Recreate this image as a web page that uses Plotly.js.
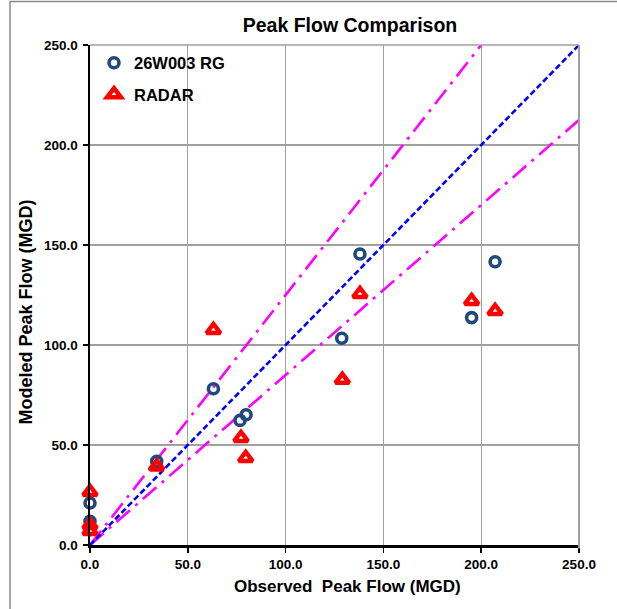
<!DOCTYPE html>
<html>
<head>
<meta charset="utf-8">
<script src="https://cdn.plot.ly/plotly-3.0.1.min.js"></script>
<style>
html,body{margin:0;padding:0;background:#fff;}
#chart{width:617px;height:609px;}
</style>
</head>
<body>
<div id="chart"></div>
<script>
// Observed vs modeled peak flows (MGD)
var rgObserved  = [0, 0, 0, 34.1, 63.1, 79.8, 76.7, 128.7, 138.0, 207.1, 195.1];
var rgModeled   = [21.0, 11.9, 7.7, 41.8, 78.1, 65.1, 62.3, 103.4, 145.5, 141.6, 113.7];

var radarObserved = [0, 0, 0, 34.1, 77.2, 79.6, 63.1, 138.0, 129.0, 195.1, 207.1];
var radarModeled  = [26.5, 10.0, 7.0, 39.3, 53.5, 43.5, 107.5, 125.5, 82.6, 122.0, 117.0];

// reference lines
var equalX = [0, 250];
var equalY = [0, 250];
var upperX = [0, 200];
var upperY = [0, 250];
var lowerX = [0, 250];
var lowerY = [0, 212.5];

var tickVals = [0, 50, 100, 150, 200, 250];
var tickText = ['0.0', '50.0', '100.0', '150.0', '200.0', '250.0'];

var FONT = 'Liberation Sans, Arial, sans-serif';

// plot-area pixel geometry helpers (for text placement only)
var L = 90, R = 579, T = 44.5, B = 545.5;
function px2paperX(p) { return (p - L) / (R - L); }
function px2paperY(p) { return (B - p) / (B - T); }

var traces = [
  {x: upperX, y: upperY, mode: 'lines', showlegend: false, hoverinfo: 'skip',
   line: {color: '#FF00FF', width: 2.6, dash: '18px,7px,3px,7px'}},
  {x: lowerX, y: lowerY, mode: 'lines', showlegend: false, hoverinfo: 'skip',
   line: {color: '#FF00FF', width: 2.6, dash: '18px,7px,3px,7px'}},
  {x: equalX, y: equalY, mode: 'lines', showlegend: false, hoverinfo: 'skip',
   line: {color: '#0000FF', width: 2.6, dash: '6px,3px'}},
  {x: rgObserved, y: rgModeled, mode: 'markers', name: '26W003 RG', legendgroup: 'a', cliponaxis: false,
   marker: {symbol: 'circle-open', size: 10, color: '#1F497D', line: {width: 3.6, color: '#1F497D'}}},
  {x: radarObserved, y: radarModeled, mode: 'markers', name: 'RADAR', legendgroup: 'b', cliponaxis: false,
   marker: {symbol: 'triangle-up-open', size: 12, color: '#FF0000', line: {width: 4.5, color: '#FF0000'}}}
];

var layout = {
  width: 617, height: 609,
  paper_bgcolor: '#ffffff', plot_bgcolor: '#ffffff',
  margin: {l: L, r: 617 - R, t: T, b: 609 - B},
  font: {family: FONT, color: '#000', size: 13},
  title: {text: '<b>Peak Flow Comparison</b>', xref: 'container', x: 350 / 617, xanchor: 'center',
          yref: 'container', y: 1 - 25 / 609, yanchor: 'middle', font: {family: FONT, size: 19.5, color: '#000'}},
  xaxis: {
    range: [0, 250], tickvals: tickVals, ticktext: tickText.map(function(t){return '<b>'+t+'</b>';}),
    showgrid: true, gridcolor: '#A0A0A0', gridwidth: 1.2, zeroline: false,
    showline: true, linecolor: '#000', linewidth: 2.5,
    ticks: 'outside', ticklen: 5, tickcolor: '#000', tickwidth: 1.5,
    tickfont: {family: FONT, size: 13.5, color: '#000'}, fixedrange: true
  },
  yaxis: {
    range: [0, 250], tickvals: tickVals, ticktext: tickText.map(function(t){return '<b>'+t+'</b>';}),
    showgrid: true, gridcolor: '#A0A0A0', gridwidth: 1.2, zeroline: false,
    showline: true, linecolor: '#000', linewidth: 2.5,
    ticks: 'outside', ticklen: 5, tickcolor: '#000', tickwidth: 1.5, ticklabelstandoff: 2,
    tickfont: {family: FONT, size: 13.5, color: '#000'}, fixedrange: true
  },
  legend: {
    x: px2paperX(94), y: px2paperY(45), xanchor: 'left', yanchor: 'top',
    bgcolor: 'rgba(0,0,0,0)', borderwidth: 0,
    font: {family: FONT, size: 16.5, color: '#000', weight: 'bold'},
    tracegroupgap: 7, itemwidth: 30
  },
  annotations: [
    {text: '<b>Observed  Peak Flow (MGD)</b>', xref: 'paper', yref: 'paper',
     x: px2paperX(232), y: px2paperY(587), xanchor: 'left', yanchor: 'middle',
     showarrow: false, font: {family: FONT, size: 17, color: '#000'}},
    {text: '<b>Modeled Peak Flow (MGD)</b>', xref: 'paper', yref: 'paper', textangle: -90,
     x: px2paperX(26), y: px2paperY(312.5), xanchor: 'center', yanchor: 'middle',
     showarrow: false, font: {family: FONT, size: 18, color: '#000'}}
  ],
  shapes: [
    {type: 'line', xref: 'paper', yref: 'paper', x0: 0, x1: 1, y0: 1, y1: 1, line: {color: '#A0A0A0', width: 1.5}},
    {type: 'line', xref: 'paper', yref: 'paper', x0: 1, x1: 1, y0: px2paperY(549), y1: 1, line: {color: '#A0A0A0', width: 2}},
    {type: 'rect', xref: 'paper', yref: 'paper', x0: px2paperX(10), x1: px2paperX(640),
     y0: px2paperY(640), y1: px2paperY(1), line: {color: '#888888', width: 1.5}, layer: 'below'}
  ]
};

Plotly.newPlot('chart', traces, layout, {displayModeBar: false, staticPlot: true});
</script>
</body>
</html>
